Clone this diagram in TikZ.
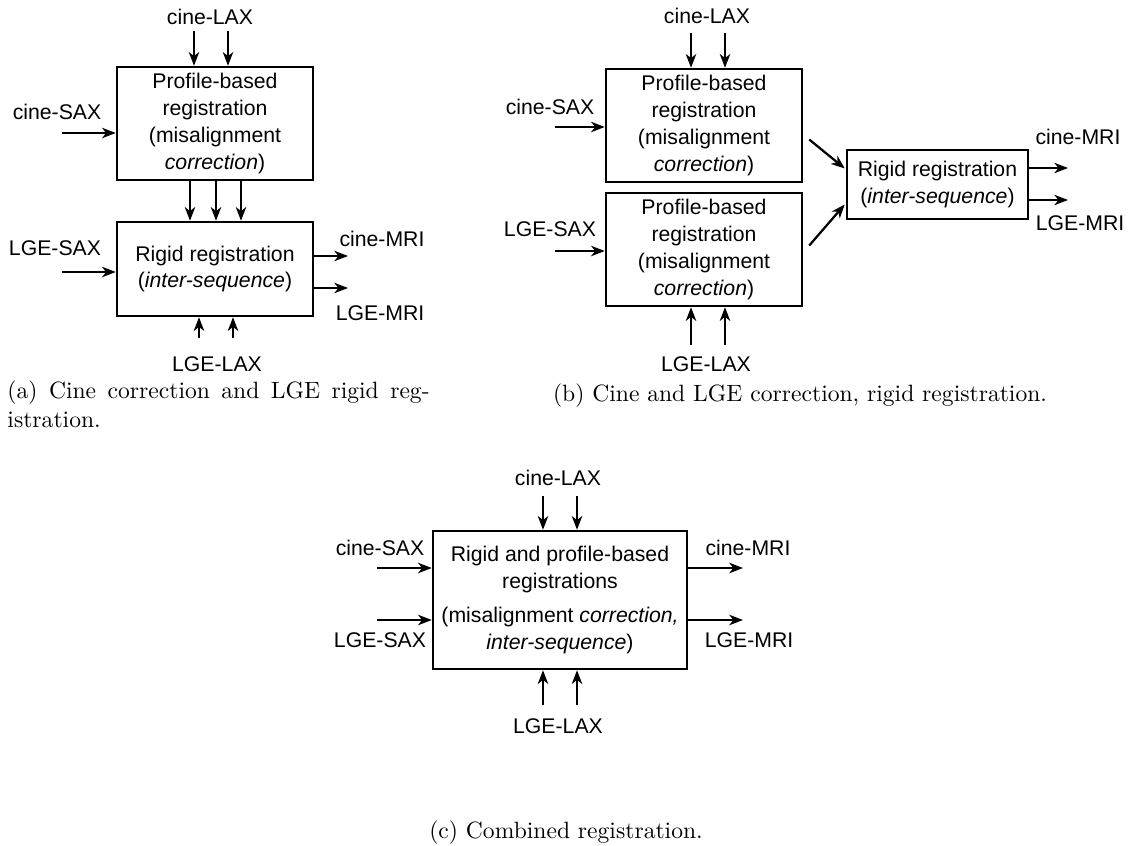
\documentclass[tikz,border=0pt]{standalone}
\usepackage{fontspec}
\newfontfamily\diagfont{Liberation Sans}
\usetikzlibrary{arrows.meta,positioning}
\newdimen\pxu
\pxu=0.424pt

\begin{document}
\begin{tikzpicture}[x=0.424pt,y=-0.424pt,font=\diagfont\fontsize{9}{11.4}\selectfont,
  regbox/.style={draw, line width=1.05pt, align=center, inner sep=2pt},
  feed/.style={line width=0.95pt, -{Stealth[length=5.8pt,width=4.4pt,inset=1.7pt]}},
  capt/.style={font=\rmfamily\fontsize{10}{12}\selectfont, inner sep=0pt}]
  \useasboundingbox (0,0) rectangle (1132,846);

  % (a) cine correction, then rigid registration
  \node[regbox, minimum width=196\pxu, minimum height=113\pxu] (profA) at (215,123.5)
    {Profile-based\\registration\\(misalignment\\\textit{correction})};
  \node[regbox, minimum width=196\pxu, minimum height=94\pxu] (rigA) at (215,269)
    {Rigid registration\\(\textit{inter-sequence})};
  \node (laxcA) at (210,17) {cine-LAX};
  \node (saxcA) at (57,112) {cine-SAX};
  \node (saxlA) at (55,248) {LGE-SAX};
  \node (mricA) at (382,239) {cine-MRI};
  \node (mrilA) at (380,313) {LGE-MRI};
  \node (laxlA) at (217,364) {LGE-LAX};
  \foreach \x/\n in {194/1,228/2}{
    \coordinate (inA\n) at (\x,31);
    \draw[feed] (inA\n) -- (inA\n |- profA.north);
  }
  \foreach \x/\n in {199/1,233/2}{
    \coordinate (upA\n) at (\x,338);
    \draw[feed] (upA\n) -- (upA\n |- rigA.south);
  }
  \foreach \dx in {-25,1,26}
    \draw[feed] ([xshift=\dx\pxu]profA.south) -- ([xshift=\dx\pxu]rigA.north);
  \coordinate (sAc) at (62,133);
  \coordinate (sAl) at (62,272);
  \draw[feed] (sAc) -- (sAc -| profA.west);
  \draw[feed] (sAl) -- (sAl -| rigA.west);
  \coordinate (oA1) at (348,256);
  \coordinate (oA2) at (348,288);
  \draw[feed] (oA1 -| rigA.east) -- (oA1);
  \draw[feed] (oA2 -| rigA.east) -- (oA2);
  \node[capt, anchor=base west, align=left] (capA) at (7,427)
    {\makebox[179pt][s]{(a) Cine correction and LGE rigid reg-}\\istration.};

  % (b) both corrected, then rigid registration
  \node[regbox, minimum width=196\pxu, minimum height=113\pxu] (profB1) at (704,125.5)
    {Profile-based\\registration\\(misalignment\\\textit{correction})};
  \node[regbox, minimum width=196\pxu, minimum height=113\pxu] (profB2) at (704,249.5)
    {Profile-based\\registration\\(misalignment\\\textit{correction})};
  \node[regbox, minimum width=181\pxu, minimum height=69\pxu] (rigB) at (937.5,184.5)
    {Rigid registration\\(\textit{inter-sequence})};
  \node (laxcB) at (707,16) {cine-LAX};
  \node (saxcB) at (550,107) {cine-SAX};
  \node (saxlB) at (550,229) {LGE-SAX};
  \node (mricB) at (1078,137) {cine-MRI};
  \node (mrilB) at (1080,223) {LGE-MRI};
  \node (laxlB) at (706,364) {LGE-LAX};
  \foreach \x/\n in {691/1,725/2}{
    \coordinate (inB\n) at (\x,33);
    \draw[feed] (inB\n) -- (inB\n |- profB1.north);
    \coordinate (upB\n) at (\x,345);
    \draw[feed] (upB\n) -- (upB\n |- profB2.south);
  }
  \coordinate (sBc) at (555,127);
  \coordinate (sBl) at (555,251);
  \draw[feed] (sBc) -- (sBc -| profB1.west);
  \draw[feed] (sBl) -- (sBl -| profB2.west);
  \draw[feed] ([shift={(6,14)}]profB1.east) -- ([shift={(-1,-16)}]rigB.west);
  \draw[feed] ([shift={(6,-4)}]profB2.east) -- ([shift={(-1,20)}]rigB.west);
  \coordinate (oB1) at (1068,168);
  \coordinate (oB2) at (1068,200);
  \draw[feed] (oB1 -| rigB.east) -- (oB1);
  \draw[feed] (oB2 -| rigB.east) -- (oB2);
  \node[capt, anchor=base] (capB) at (800,401) {(b) Cine and LGE correction, rigid registration.};

  % (c) combined registration
  \node[regbox, minimum width=254\pxu, minimum height=138\pxu] (combC) at (560,600)
    {Rigid and profile-based\\registrations\\[3pt](misalignment \textit{correction,}\\\textit{inter-sequence})};
  \node (laxcC) at (558,478) {cine-LAX};
  \node (saxcC) at (380,548) {cine-SAX};
  \node (saxlC) at (380,640) {LGE-SAX};
  \node (mricC) at (748,548) {cine-MRI};
  \node (mrilC) at (749,640) {LGE-MRI};
  \node (laxlC) at (558,726) {LGE-LAX};
  \foreach \x/\n in {543/1,577/2}{
    \coordinate (inC\n) at (\x,496);
    \draw[feed] (inC\n) -- (inC\n |- combC.north);
    \coordinate (upC\n) at (\x,705);
    \draw[feed] (upC\n) -- (upC\n |- combC.south);
  }
  \foreach \y/\n in {568/1,620/2}{
    \coordinate (sC\n) at (377,\y);
    \draw[feed] (sC\n) -- (sC\n -| combC.west);
    \coordinate (oC\n) at (743,\y);
    \draw[feed] (oC\n -| combC.east) -- (oC\n);
  }
  \node[capt, anchor=base] (capC) at (566,838) {(c) Combined registration.};
\end{tikzpicture}
\end{document}
